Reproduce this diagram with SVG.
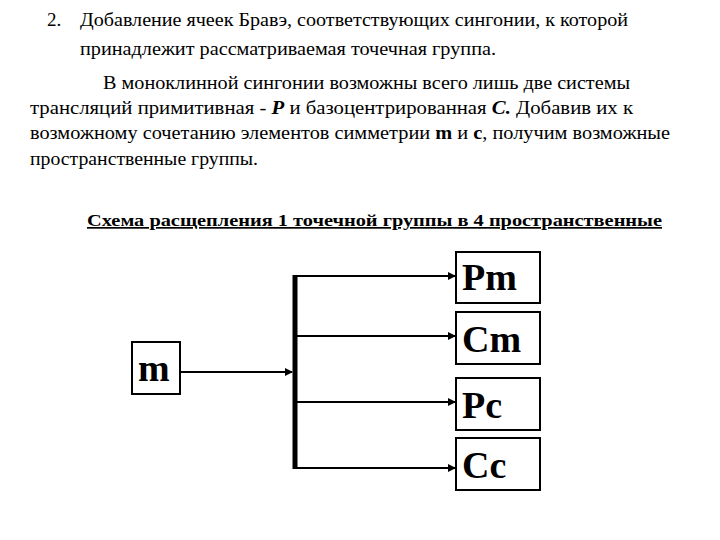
<svg xmlns="http://www.w3.org/2000/svg" width="720" height="540" viewBox="0 0 720 540">
<style>
text{font-family:"Liberation Serif","DejaVu Serif","Times New Roman",serif;fill:#000}
.t{font-size:19px}
.b{font-size:38px;font-weight:bold}
.box{fill:#fff;stroke:#000;stroke-width:2}
.ln{stroke:#000;stroke-width:2;fill:none}
</style>
<defs><marker id="a" markerWidth="8" markerHeight="8" refX="7" refY="4" orient="auto" markerUnits="userSpaceOnUse"><path d="M0,0L8,4L0,8z" fill="#000"/></marker></defs>
<rect width="720" height="540" fill="#fff"/>
<text class="t" x="47" y="26">2.</text>
<text class="t" x="80" y="26" textLength="548" lengthAdjust="spacingAndGlyphs">Добавление ячеек Бравэ, соответствующих сингонии, к которой</text>
<text class="t" x="80" y="55" textLength="416" lengthAdjust="spacingAndGlyphs">принадлежит рассматриваемая точечная группа.</text>
<text class="t" x="103" y="89" textLength="527" lengthAdjust="spacingAndGlyphs">В моноклинной сингонии возможны всего лишь две системы</text>
<text class="t" x="30" y="114" textLength="603" lengthAdjust="spacingAndGlyphs">трансляций примитивная  - <tspan font-weight="bold" font-style="italic">P</tspan>   и базоцентрированная  <tspan font-weight="bold" font-style="italic">С.</tspan> Добавив их к</text>
<text class="t" x="30" y="139" textLength="640" lengthAdjust="spacingAndGlyphs">возможному сочетанию элементов симметрии  <tspan font-weight="bold">m</tspan> и <tspan font-weight="bold">c</tspan>, получим возможные</text>
<text class="t" x="30" y="165" textLength="228" lengthAdjust="spacingAndGlyphs">пространственные группы.</text>
<text x="87" y="226" font-size="17" font-weight="bold" text-decoration="underline" textLength="575" lengthAdjust="spacingAndGlyphs">Схема расщепления 1 точечной группы  в  4 пространственные</text>
<g id="connectors">
<line class="ln" x1="180" y1="372" x2="292" y2="372" marker-end="url(#a)"/>
<line x1="295" y1="275" x2="295" y2="469" stroke="#000" stroke-width="5"/>
<line class="ln" x1="295" y1="276" x2="455" y2="276" marker-end="url(#a)"/>
<line class="ln" x1="295" y1="336" x2="455" y2="336" marker-end="url(#a)"/>
<line class="ln" x1="295" y1="402" x2="455" y2="402" marker-end="url(#a)"/>
<line class="ln" x1="295" y1="468" x2="455" y2="468" marker-end="url(#a)"/>
</g>
<g id="m"><rect class="box" x="132" y="342" width="48" height="52"/><text class="b" x="138" y="381">m</text></g>
<g id="Pm"><rect class="box" x="456" y="252" width="84" height="51"/><text class="b" x="462" y="290">Pm</text></g>
<g id="Cm"><rect class="box" x="456" y="312" width="84" height="52"/><text class="b" x="462" y="352">Cm</text></g>
<g id="Pc"><rect class="box" x="456" y="378" width="84" height="52"/><text class="b" x="462" y="418">Pc</text></g>
<g id="Cc"><rect class="box" x="456" y="438" width="84" height="52"/><text class="b" x="462" y="478">Cc</text></g>
</svg>
